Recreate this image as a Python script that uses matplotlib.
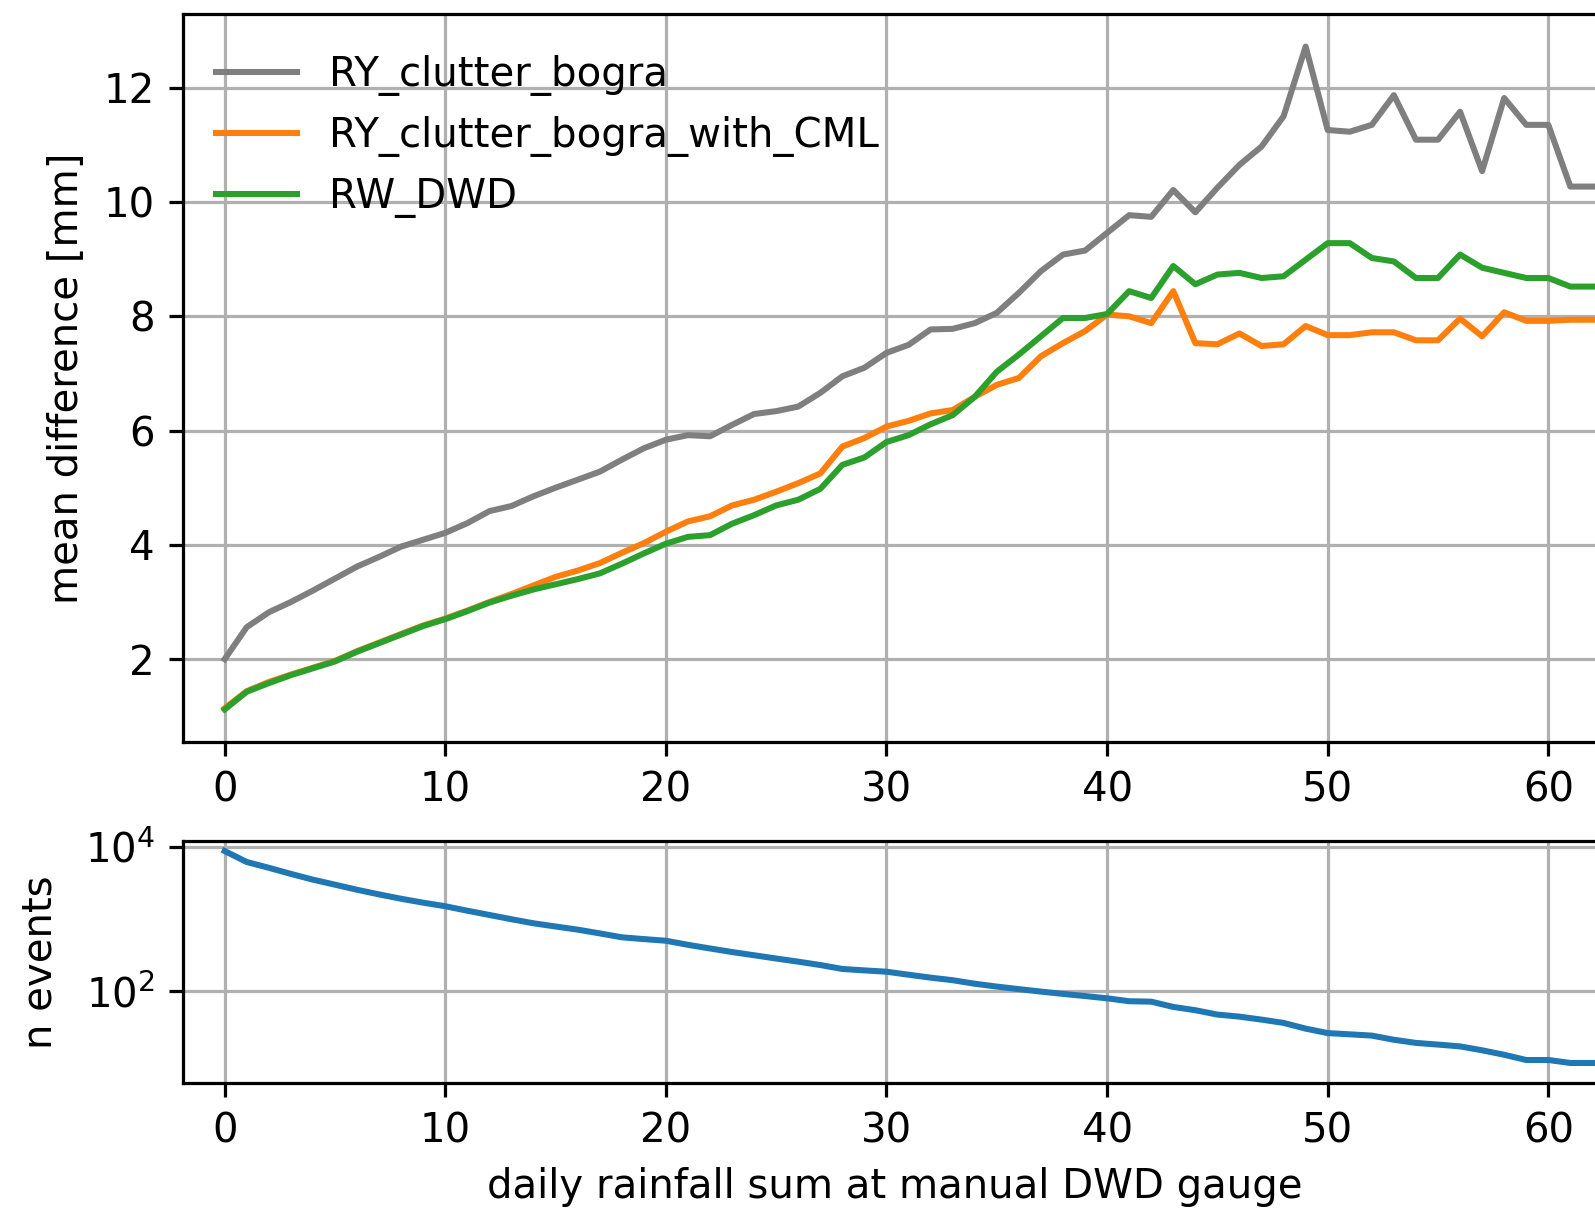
import numpy as np
import matplotlib
matplotlib.use("Agg")
import matplotlib.pyplot as plt
from matplotlib.ticker import FixedLocator, NullLocator

# daily rainfall sum at the manual DWD gauge [mm]
rain_sum = list(range(63))

ry_clutter_bogra = [
    2.00, 2.56, 2.82, 3.00, 3.20, 3.41, 3.62, 3.79, 3.97, 4.09,
    4.21, 4.38, 4.59, 4.68, 4.85, 5.00, 5.14, 5.28, 5.49, 5.69,
    5.84, 5.92, 5.90, 6.10, 6.29, 6.34, 6.42, 6.66, 6.95, 7.10,
    7.36, 7.50, 7.77, 7.78, 7.88, 8.06, 8.41, 8.79, 9.08, 9.15,
    9.46, 9.77, 9.74, 10.21, 9.82, 10.25, 10.65, 10.97, 11.50, 12.72,
    11.26, 11.23, 11.35, 11.87, 11.09, 11.09, 11.58, 10.54, 11.82, 11.35,
    11.35, 10.27, 10.27,
]

ry_clutter_bogra_with_cml = [
    1.14, 1.44, 1.60, 1.73, 1.85, 1.97, 2.14, 2.29, 2.44, 2.59,
    2.71, 2.85, 3.00, 3.14, 3.29, 3.44, 3.55, 3.68, 3.86, 4.03,
    4.23, 4.41, 4.50, 4.69, 4.79, 4.93, 5.08, 5.25, 5.72, 5.87,
    6.07, 6.17, 6.30, 6.36, 6.59, 6.80, 6.92, 7.30, 7.53, 7.74,
    8.03, 8.00, 7.88, 8.44, 7.53, 7.51, 7.70, 7.48, 7.51, 7.83,
    7.67, 7.67, 7.72, 7.72, 7.58, 7.58, 7.96, 7.65, 8.07, 7.92,
    7.92, 7.94, 7.94,
]

rw_dwd = [
    1.12, 1.43, 1.58, 1.72, 1.84, 1.96, 2.13, 2.28, 2.43, 2.58,
    2.70, 2.84, 2.99, 3.11, 3.22, 3.31, 3.40, 3.50, 3.67, 3.85,
    4.02, 4.14, 4.17, 4.37, 4.52, 4.69, 4.79, 4.98, 5.40, 5.53,
    5.80, 5.92, 6.11, 6.27, 6.59, 7.03, 7.33, 7.65, 7.97, 7.97,
    8.04, 8.44, 8.32, 8.88, 8.56, 8.73, 8.76, 8.67, 8.70, 8.99,
    9.28, 9.28, 9.02, 8.96, 8.67, 8.67, 9.08, 8.85, 8.76, 8.67,
    8.67, 8.52, 8.52,
]

n_events = [
    8770, 6170, 5130, 4220, 3510, 2990, 2540, 2190, 1905, 1680,
    1500, 1300, 1135, 990, 870, 785, 710, 630, 556, 525,
    498, 437, 389, 347, 313, 282, 255, 229, 202, 193,
    185, 168, 153, 141, 126, 115, 106, 98, 91, 85,
    79, 72, 71, 60, 54, 47, 44, 40, 36, 30,
    26, 25, 24, 21, 19, 18, 17, 15, 13, 11,
    11, 10, 10,
]

series_labels = ["RY_clutter_bogra", "RY_clutter_bogra_with_CML", "RW_DWD"]
series_colors = ["tab:gray", "tab:orange", "tab:green"]

W, H, DPI = 1595, 1208, 290
fig = plt.figure(figsize=(W / DPI, H / DPI), dpi=DPI)

xlim = (-1.89, 62.66)
left = 183 / W
width = (224.7 + 22.06 * xlim[1] - 183) / W

ax1 = fig.add_axes([left, 1 - 742 / H, width, (742 - 14) / H])
ax2 = fig.add_axes([left, 1 - 1083 / H, width, (1083 - 841) / H])

for vals, lab, col in zip([ry_clutter_bogra, ry_clutter_bogra_with_cml, rw_dwd],
                          series_labels, series_colors):
    ax1.plot(rain_sum, vals, color=col, label=lab)

ax1.set_xlim(*xlim)
ax1.set_ylim(0.55, 13.29)
ax1.set_xticks(range(0, 70, 10))
ax1.set_yticks([2, 4, 6, 8, 10, 12])
ax1.set_ylabel("mean difference [mm]")
ax1.grid(True)
ax1.legend(loc="upper left", bbox_to_anchor=(-0.002, 0.994), frameon=False)

ax2.plot(rain_sum, n_events, color="tab:blue")
ax2.set_yscale("log")
ax2.set_xlim(*xlim)
ax2.set_ylim(10 ** 0.722, 10 ** 4.082)
ax2.set_xticks(range(0, 70, 10))
ax2.yaxis.set_major_locator(FixedLocator([1e2, 1e4]))
ax2.yaxis.set_minor_locator(NullLocator())
ax2.set_ylabel("n events", labelpad=6)
ax2.set_xlabel("daily rainfall sum at manual DWD gauge")
ax2.grid(True)

fig.savefig("out.png", dpi=DPI)
